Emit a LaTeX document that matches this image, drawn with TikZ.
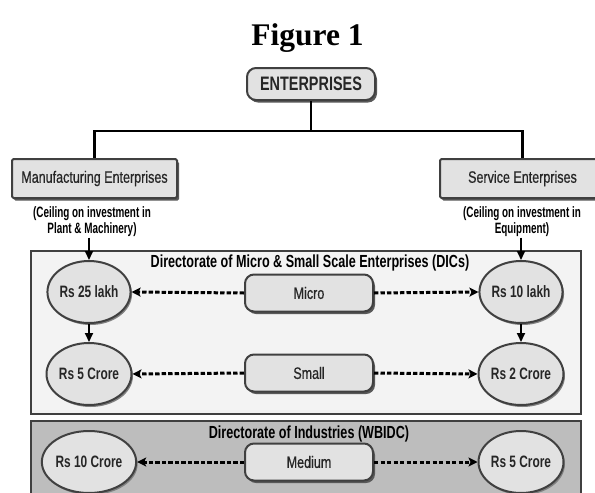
\documentclass[tikz,border=0pt]{standalone}
\usepackage{fontspec}
\setmainfont{Liberation Serif}
\newfontfamily\regnar[FakeStretch=0.76,FakeBold=0.6]{Liberation Sans}
\newfontfamily\boldnar[FakeStretch=0.72]{Liberation Sans}
\newfontfamily\capnar[FakeStretch=0.66]{Liberation Sans}
\newfontfamily\entnar[FakeStretch=0.74]{Liberation Sans}
\usetikzlibrary{shapes.geometric,shadows,arrows.meta}
\definecolor{edgegray}{HTML}{404040}
\definecolor{boxfill}{HTML}{E2E2E2}
\definecolor{dicfill}{HTML}{F3F3F3}
\definecolor{wbfill}{HTML}{BDBDBD}
\definecolor{txt}{HTML}{262626}
\begin{document}
\begin{tikzpicture}[x=1pt,y=-1pt,
  sq/.style={draw=edgegray, line width=2pt, fill=boxfill, rounded corners=1.5pt,
    drop shadow={shadow xshift=2pt,shadow yshift=-2.5pt,fill=black!65,opacity=1},
    minimum width=165pt, minimum height=39pt, inner sep=0pt, text=txt,
    font=\regnar\fontsize{16.5}{19}\selectfont},
  rbox/.style={draw=edgegray, line width=2pt, fill=boxfill, rounded corners=9pt,
    drop shadow={shadow xshift=2pt,shadow yshift=-2.5pt,fill=black!65,opacity=1},
    minimum width=128pt, minimum height=37pt, inner sep=0pt, text=txt,
    font=\regnar\fontsize{16.5}{19}\selectfont},
  ell/.style={ellipse, draw=edgegray, line width=2pt, fill=boxfill,
    drop shadow={shadow xshift=1.5pt,shadow yshift=-2pt,fill=black!50,opacity=1},
    minimum width=79pt, minimum height=62pt, inner sep=0pt, text=txt,
    font=\boldnar\bfseries\fontsize{16.5}{19}\selectfont},
  panel/.style={draw=edgegray, line width=1.6pt, inner sep=0pt, minimum width=550pt},
  ptitle/.style={font=\boldnar\bfseries\fontsize{17.5}{20}\selectfont, text=black, inner sep=0pt},
  captxt/.style={font=\capnar\bfseries\fontsize{15}{16}\selectfont, text=black, align=center, inner sep=1pt},
  darr/.style={line width=3pt, dash pattern=on 4.3pt off 2.2pt, -{Stealth[length=9pt,width=9pt,inset=2pt]}},
  varr/.style={line width=2pt, -{Triangle[length=9pt,width=8pt]}},
  conn/.style={line width=2.8pt, black}
]
\useasboundingbox (0,0) rectangle (595,493);
\clip (0,0) rectangle (595,493);
\fill[white] (0,0) rectangle (595,493);

\node[font=\bfseries\fontsize{31.5}{36}\selectfont, inner sep=0pt] (fig) at (307.5,38) {Figure 1};

% top hierarchy
\node[rbox, minimum width=128pt, minimum height=32pt, rounded corners=9pt,
      font=\entnar\bfseries\fontsize{19.5}{22}\selectfont] (ent) at (311,84) {ENTERPRISES};
\node[sq] (man) at (94.5,178.5) {Manufacturing Enterprises};
\node[sq] (ser) at (522.5,178.5) {Service Enterprises};
\coordinate (hub) at (311,131);
\draw[conn] (ent.south) -- (hub) -| (man.north);
\draw[conn] (hub) -| (ser.north);

\node[captxt] (capL) at (92,221.5) {(Ceiling on investment in\\Plant \& Machinery)};
\node[captxt] (capR) at (522,221.5) {(Ceiling on investment in\\Equipment)};

% panels
\node[panel, fill=dicfill, minimum height=163pt] (dic) at (306,332.5) {};
\node[panel, fill=wbfill, minimum height=90pt] (wb) at (306,466) {};
\node[ptitle] (dict) at (310,263) {Directorate of Micro \& Small Scale Enterprises (DICs)};
\node[ptitle] (wbt) at (309,434) {Directorate of Industries (WBIDC)};

% categories
\node[rbox] (micro) at (309,293) {Micro};
\node[rbox] (small) at (309,373) {Small};
\node[rbox] (medium) at (309,462) {Medium};

% ceilings
\node[ell] (e25) at (89,292) {Rs 25 lakh};
\node[ell] (e5c) at (89,374) {Rs 5 Crore};
\node[ell] (e10c) at (89,462) {Rs 10 Crore};
\node[ell] (e10l) at (521,292) {Rs 10 lakh};
\node[ell] (e2c) at (521,374) {Rs 2 Crore};
\node[ell] (e5m) at (521,462) {Rs 5 Crore};

% arrows
\draw[varr] (e25.north |- capL.south) -- (e25.north);
\draw[varr] (e10l.north |- capR.south) -- (e10l.north);
\draw[varr] (e25.south) -- (e5c.north);
\draw[varr] (e10l.south) -- (e2c.north);

\draw[darr] (micro.west) -- (e25.east);
\draw[darr] (micro.east) -- (e10l.west);
\draw[darr] (small.west) -- (e5c.east);
\draw[darr] (small.east) -- (e2c.west);
\draw[darr] (medium.west) -- (e10c.east);
\draw[darr] (medium.east) -- (e5m.west);
\end{tikzpicture}
\end{document}
